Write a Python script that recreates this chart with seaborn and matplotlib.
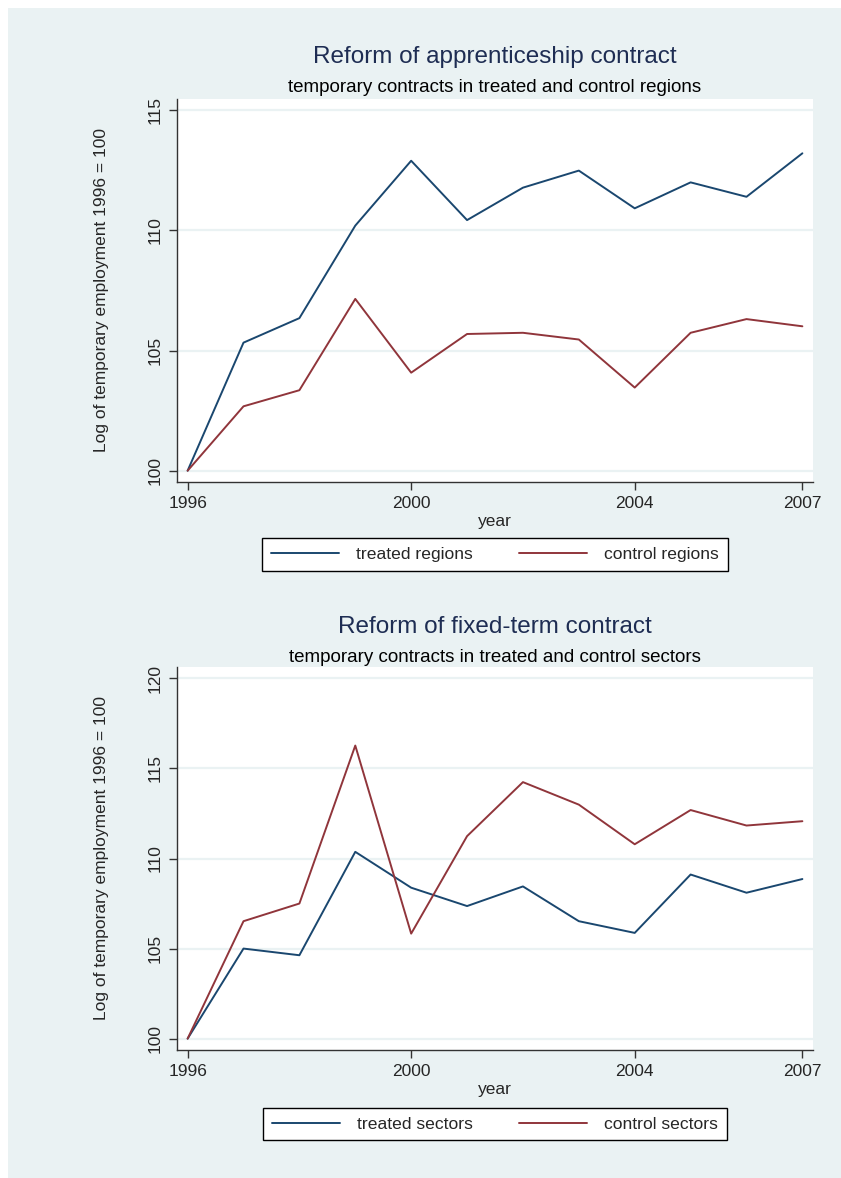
import numpy as np
import pandas as pd
import matplotlib
matplotlib.use('Agg')
import matplotlib.pyplot as plt
import seaborn as sns
from matplotlib.patches import Rectangle

# Data
years = [1996, 1997, 1998, 1999, 2000, 2001, 2002, 2003, 2004, 2005, 2006, 2007]
treated_regions = [100.0, 105.33, 106.35, 110.2, 112.9, 110.43, 111.78, 112.49, 110.92, 112.0, 111.4, 113.21]
control_regions = [100.0, 102.68, 103.35, 107.15, 104.08, 105.69, 105.74, 105.46, 103.46, 105.74, 106.31, 106.01]
treated_sectors = [100.0, 105.0, 104.63, 110.37, 108.38, 107.36, 108.45, 106.52, 105.87, 109.11, 108.1, 108.86]
control_sectors = [100.0, 106.52, 107.5, 116.27, 105.83, 111.24, 114.24, 112.99, 110.79, 112.69, 111.83, 112.07]

x_ticks = [1996, 2000, 2004, 2007]
y_ticks_top = [100, 105, 110, 115]
y_ticks_bottom = [100, 105, 110, 115, 120]

NAVY = '#1a476f'
MAROON = '#90353b'
BG = '#eaf2f3'

sns.set_theme(style='white')
plt.rcParams['font.family'] = ['Liberation Sans', 'DejaVu Sans']

W, H = 841, 1178
fig = plt.figure(figsize=(W / 100, H / 100), dpi=100)
fig.patch.set_facecolor('white')
fig.patches.append(Rectangle((8 / W, 0), 1 - 8 / W, 1 - 8 / H, transform=fig.transFigure,
                             facecolor=BG, edgecolor='none', zorder=-10))


def px_box(left, top, right, bottom):
    return [left / W, 1 - bottom / H, (right - left) / W, (bottom - top) / H]


def make_panel(box, treated, control, labels, title, subtitle, yticks, ylim, title_y, legend_y):
    ax = fig.add_axes(px_box(*box))
    df = pd.DataFrame({
        'year': years * 2,
        'value': treated + control,
        'group': [labels[0]] * len(years) + [labels[1]] * len(years),
    })
    sns.lineplot(data=df, x='year', y='value', hue='group', hue_order=labels,
                 palette=[NAVY, MAROON], linewidth=1.4, ax=ax, legend=True)
    ax.set_facecolor('white')
    ax.set_xlim(1995.81, 2007.19)
    ax.set_ylim(*ylim)
    ax.set_xticks(x_ticks)
    ax.set_yticks(yticks)
    ax.set_xticklabels([str(t) for t in x_ticks], fontsize=12.5)
    ax.set_yticklabels([str(t) for t in yticks], fontsize=12.5, rotation=90, va='center')
    for y in yticks:
        ax.axhline(y, color=BG, lw=1.6, zorder=0)
    ax.tick_params(axis='both', direction='out', length=6, width=1, color='#333333',
                   bottom=True, left=True, pad=4)
    for s in ['top', 'right']:
        ax.spines[s].set_visible(False)
    for s in ['left', 'bottom']:
        ax.spines[s].set_color('#333333')
        ax.spines[s].set_linewidth(1.0)
    ax.set_xlabel('year', fontsize=12.5, labelpad=2)
    ax.set_ylabel('Log of temporary employment 1996 = 100', fontsize=12.5, labelpad=28)
    fig.text(495 / W, 1 - title_y / H, title, ha='center', va='center', fontsize=17.5, color='#1e2d53')
    fig.text(495 / W, 1 - (title_y + 30) / H, subtitle, ha='center', va='center', fontsize=13.5, color='black')
    leg = ax.legend(loc='center', bbox_to_anchor=(495 / W, 1 - legend_y / H), bbox_transform=fig.transFigure,
                    ncol=2, frameon=True, fancybox=False, edgecolor='black', facecolor='white',
                    fontsize=12.6, handlelength=3.9, handletextpad=1.0, columnspacing=2.6,
                    borderpad=0.5, framealpha=1)
    leg.get_frame().set_linewidth(1.0)
    return ax


make_panel((177, 99, 813, 482), treated_regions, control_regions,
           ['treated regions', 'control regions'],
           'Reform of apprenticeship contract',
           'temporary contracts in treated and control regions',
           y_ticks_top, (99.53, 115.47), 57, 554.5)

make_panel((177, 667, 813, 1050), treated_sectors, control_sectors,
           ['treated sectors', 'control sectors'],
           'Reform of fixed-term contract',
           'temporary contracts in treated and control sectors',
           y_ticks_bottom, (99.37, 120.63), 627, 1124)

fig.savefig('out.png', dpi=100, facecolor=fig.get_facecolor())
